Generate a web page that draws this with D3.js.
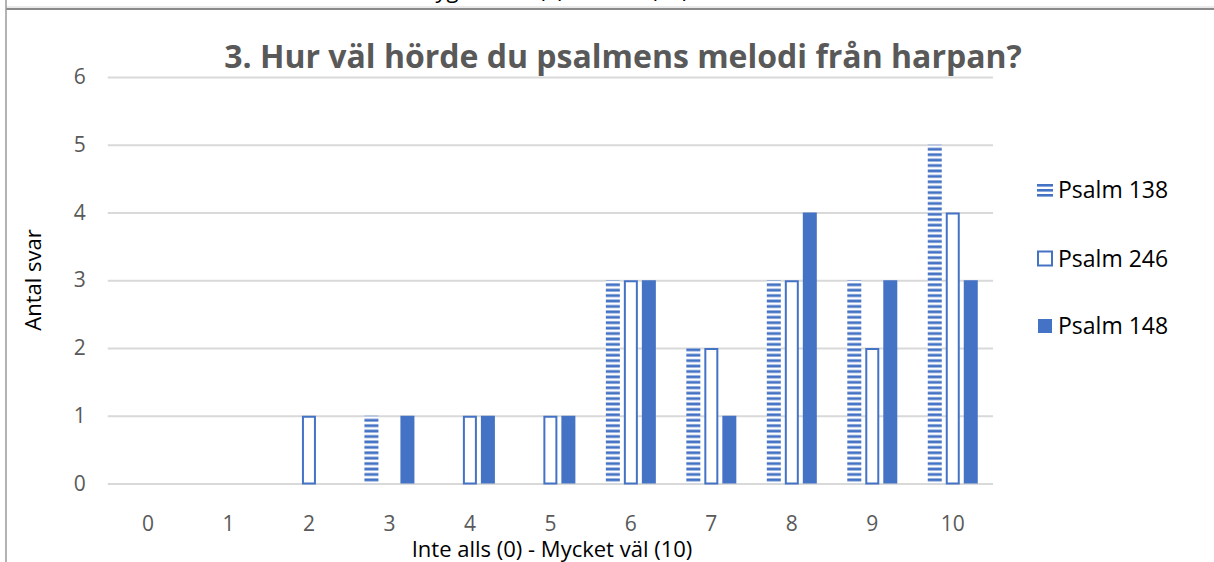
<!DOCTYPE html>
<html>
<head>
<meta charset="utf-8">
<script src="https://cdn.jsdelivr.net/npm/d3@7"></script>
<style>
  body { margin: 0; background: #fff; }
  svg { display: block; font-family: "Open Sans", sans-serif; }
</style>
</head>
<body>
<svg width="1214" height="562"></svg>
<script>
const categories = ["0", "1", "2", "3", "4", "5", "6", "7", "8", "9", "10"];
const seriesNames = ["Psalm 138", "Psalm 246", "Psalm 148"];
const psalm138 = [0, 0, 0, 1, 0, 0, 3, 2, 3, 3, 5];
const psalm246 = [0, 0, 1, 0, 1, 1, 3, 2, 3, 2, 4];
const psalm148 = [0, 0, 0, 1, 1, 1, 3, 1, 4, 3, 3];
const yTicks = [0, 1, 2, 3, 4, 5, 6];

const blue = "#4472C4";
const svg = d3.select("svg");
const margin = { left: 107.75, right: 221, top: 77, bottom: 78.5 };
const width = +svg.attr("width");
const height = +svg.attr("height");
const innerWidth = width - margin.left - margin.right;
const innerHeight = height - margin.top - margin.bottom;

// hatch pattern for Psalm 138
const defs = svg.append("defs");
const pat = defs.append("pattern")
  .attr("id", "hatch")
  .attr("patternUnits", "userSpaceOnUse")
  .attr("width", 10)
  .attr("height", 5.42);
pat.append("rect").attr("width", 10).attr("height", 5.42).attr("fill", "#fff");
pat.append("rect").attr("y", 0.4).attr("width", 10).attr("height", 2.8).attr("fill", blue);

// frame bits from the surrounding document
svg.append("text")
  .attr("x", 545).attr("y", -2)
  .attr("text-anchor", "middle")
  .style("font-size", "22px")
  .attr("fill", "#000")
  .text("Betyg: Sämst (1) till Bäst (10)");
svg.append("line").attr("x1", 6).attr("x2", 1214).attr("y1", 7).attr("y2", 7)
  .attr("stroke", "#d4d4d4").attr("stroke-width", 1);
svg.append("line").attr("x1", 6).attr("x2", 1214).attr("y1", 9).attr("y2", 9)
  .attr("stroke", "#8a8a8a").attr("stroke-width", 2);
svg.append("line").attr("x1", 6).attr("x2", 6).attr("y1", 0).attr("y2", height)
  .attr("stroke", "#9a9a9a").attr("stroke-width", 1.5);

const g = svg.append("g")
  .attr("transform", `translate(${margin.left},${margin.top})`);

const xScale = d3.scaleBand().domain(categories).range([0, innerWidth]);
const xSub = d3.scaleBand().domain(seriesNames).range([-25, 25]).paddingInner(4 / 18);
const yScale = d3.scaleLinear().domain([0, 6]).range([innerHeight, 0]);

const yAxisG = g.append("g")
  .call(d3.axisLeft(yScale).tickValues(yTicks).tickFormat(d3.format("d"))
    .tickSize(-innerWidth).tickPadding(22));
yAxisG.select(".domain").remove();
yAxisG.selectAll(".tick line").attr("stroke", "#d9d9d9").attr("stroke-width", 2);
yAxisG.selectAll(".tick text")
  .attr("fill", "#595959")
  .style("font-size", "21px")
  .style("font-family", "Open Sans");

const xAxisG = g.append("g")
  .attr("transform", `translate(0,${innerHeight})`)
  .call(d3.axisBottom(xScale).tickSize(0).tickPadding(33));
xAxisG.select(".domain").remove();
xAxisG.selectAll(".tick text")
  .attr("fill", "#595959")
  .style("font-size", "21px")
  .style("font-family", "Open Sans");

const data = categories.map((c, i) => ({
  cat: c,
  vals: [psalm138[i], psalm246[i], psalm148[i]]
}));

const groups = g.selectAll("g.grp")
  .data(data)
  .enter()
  .append("g")
  .attr("class", "grp")
  .attr("transform", d => `translate(${xScale(d.cat) + xScale.bandwidth() / 2},0)`);

groups.selectAll("rect")
  .data(d => d.vals.map((v, k) => ({ s: seriesNames[k], v: v, k: k })).filter(e => e.v > 0))
  .enter()
  .append("rect")
  .attr("x", e => xSub(e.s) + (e.k === 1 ? 1 : 0))
  .attr("width", e => xSub.bandwidth() - (e.k === 1 ? 2 : 0))
  .attr("y", e => yScale(e.v) + (e.k === 1 ? 1 : 0))
  .attr("height", e => innerHeight - yScale(e.v) - (e.k === 1 ? 1 : 0))
  .attr("fill", e => e.k === 0 ? "url(#hatch)" : e.k === 1 ? "#fff" : blue)
  .attr("stroke", e => e.k === 1 ? blue : "none")
  .attr("stroke-width", 2);

// title
svg.append("text")
  .attr("x", 623)
  .attr("y", 68)
  .attr("text-anchor", "middle")
  .attr("fill", "#595959")
  .attr("font-weight", "bold")
  .style("font-size", "32px")
  .text("3. Hur väl hörde du psalmens melodi från harpan?");

// axis titles
svg.append("text")
  .attr("transform", "rotate(-90)")
  .attr("x", -280)
  .attr("y", 41)
  .attr("text-anchor", "middle")
  .attr("fill", "#000")
  .style("font-size", "22px")
  .text("Antal svar");

svg.append("text")
  .attr("x", 552)
  .attr("y", 557)
  .attr("text-anchor", "middle")
  .attr("fill", "#000")
  .style("font-size", "22px")
  .text("Inte alls (0) - Mycket väl (10)");

// legend
const legendRows = [190, 258.5, 326];
const legend = svg.append("g");
seriesNames.forEach((name, k) => {
  const cy = legendRows[k];
  const lg = legend.append("g").attr("transform", `translate(1037,${cy})`);
  if (k === 0) {
    [-6, -1, 4].forEach(dy => {
      lg.append("rect").attr("x", 0).attr("y", dy).attr("width", 16).attr("height", 2.6).attr("fill", blue);
    });
  } else if (k === 1) {
    lg.append("rect").attr("x", 1).attr("y", -7).attr("width", 14).attr("height", 14)
      .attr("fill", "#fff").attr("stroke", blue).attr("stroke-width", 2);
  } else {
    lg.append("rect").attr("x", 1).attr("y", -7).attr("width", 14).attr("height", 14).attr("fill", blue);
  }
  lg.append("text")
    .attr("x", 21)
    .attr("y", 8)
    .attr("fill", "#000")
    .style("font-size", "23px")
    .text(name);
});
</script>
</body>
</html>
